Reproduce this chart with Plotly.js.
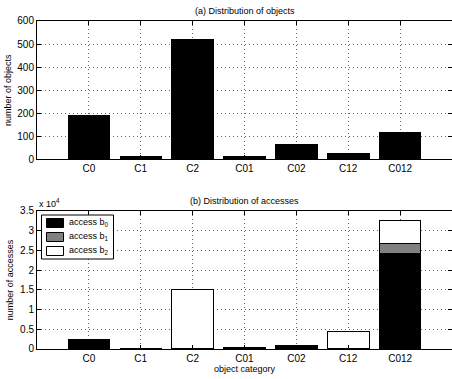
<!DOCTYPE html>
<html><head><meta charset="utf-8">
<script src="https://cdn.plot.ly/plotly-3.0.1.min.js"></script>
<style>html,body{margin:0;padding:0;background:#fff}</style>
</head><body>
<div id="chart" style="width:452px;height:379px"></div>
<script>
const categories = ['C0','C1','C2','C01','C02','C12','C012'];
const objectCounts = [191, 11, 520, 11, 64, 27, 118];
const accessB0 = [2350, 0, 0, 400, 950, 0, 24200];
const accessB1 = [0, 0, 0, 0, 0, 0, 2550];
const accessB2 = [0, 100, 15200, 0, 0, 4400, 5800];
const seriesNames = ['access b<sub>0</sub>', 'access b<sub>1</sub>', 'access b<sub>2</sub>'];
const seriesColors = ['#000', '#808080', '#fff'];
const yTicksB = [0, 5000, 10000, 15000, 20000, 25000, 30000, 35000];
const yTickTextB = ['0','0.5','1','1.5','2','2.5','3','3.5'];

const FF = 'Arial, "Liberation Sans", sans-serif';
const font = {family: FF, size: 10, color: '#000'};
const line = {color: '#000', width: 1};
const traces = [
  {type:'bar', x:categories, y:objectCounts, xaxis:'x', yaxis:'y', marker:{color:'#000', line}, width:0.8, showlegend:false},
  {type:'bar', x:categories, y:accessB0, xaxis:'x2', yaxis:'y2', marker:{color:seriesColors[0], line}, width:0.8, name:seriesNames[0], showlegend:false},
  {type:'bar', x:categories, y:accessB1, xaxis:'x2', yaxis:'y2', marker:{color:seriesColors[1], line}, width:0.8, name:seriesNames[1], showlegend:false},
  {type:'bar', x:categories, y:accessB2, xaxis:'x2', yaxis:'y2', marker:{color:seriesColors[2], line}, width:0.8, name:seriesNames[2], showlegend:false}
];
const axCommon = {showline:true, linecolor:'#000', linewidth:1, mirror:'ticks', ticks:'inside', ticklen:4, tickcolor:'#000',
  showgrid:true, gridcolor:'#666', griddash:'1px,3px', gridwidth:1, zeroline:false, tickfont:font};

// legend box drawn in pixel-derived paper coordinates
const W = 452, H = 379, L = 37;
const px = x => (x - L) / (W - L);
const py = y => 1 - y / H;
const shapes = [
  {type:'rect', xref:'paper', yref:'paper', x0:px(41.5), x1:px(113.5), y0:py(215), y1:py(259), line:{color:'#000', width:1}, fillcolor:'#fff', layer:'above'}
];
const annotations = [
  {text:'(a) Distribution of objects', xref:'paper', yref:'paper', x:0.5, y:0.9446, yshift:3, xanchor:'center', yanchor:'bottom', showarrow:false, font:{family:FF, size:9}},
  {text:'(b) Distribution of accesses', xref:'paper', yref:'paper', x:0.5, y:0.4433, yshift:3, xanchor:'center', yanchor:'bottom', showarrow:false, font:{family:FF, size:9}},
  {text:'x 10<sup>4</sup>', xref:'paper', yref:'paper', x:0, y:0.4433, xanchor:'left', yanchor:'bottom', showarrow:false, font:{family:FF, size:9}}
];
const swY = [[218.5,227.5],[232.5,241.5],[246.5,255.5]];
seriesNames.forEach((n, i) => {
  shapes.push({type:'rect', xref:'paper', yref:'paper', x0:px(46.5), x1:px(63.5), y0:py(swY[i][1]), y1:py(swY[i][0]),
    line:{color:'#000', width:1}, fillcolor:seriesColors[i], layer:'above'});
  annotations.push({text:n, xref:'paper', yref:'paper', x:px(67), y:py((swY[i][0]+swY[i][1])/2 - 1), xanchor:'left', yanchor:'middle',
    showarrow:false, font:{family:FF, size:9}});
});

const layout = {
  width:W, height:H, margin:{l:L, r:0, t:0, b:0}, paper_bgcolor:'#fff', plot_bgcolor:'#fff',
  barmode:'stack', font, showlegend:false,
  xaxis: Object.assign({}, axCommon, {domain:[0,1], anchor:'y', type:'category', range:[-1,7]}),
  yaxis: Object.assign({}, axCommon, {domain:[0.5797,0.9446], anchor:'x', range:[0,600], dtick:100,
    title:{text:'number of objects', font:{family:FF, size:9}, standoff:4}}),
  xaxis2: Object.assign({}, axCommon, {domain:[0,1], anchor:'y2', type:'category', range:[-1,7],
    title:{text:'object category', font:{family:FF, size:9}, standoff:2}}),
  yaxis2: Object.assign({}, axCommon, {domain:[0.0792,0.4433], anchor:'x2', range:[0,35000], tickvals:yTicksB, ticktext:yTickTextB,
    title:{text:'number of accesses', font:{family:FF, size:9}, standoff:4}}),
  shapes, annotations
};
Plotly.newPlot('chart', traces, layout, {displayModeBar:false, staticPlot:true});
</script>
</body></html>
